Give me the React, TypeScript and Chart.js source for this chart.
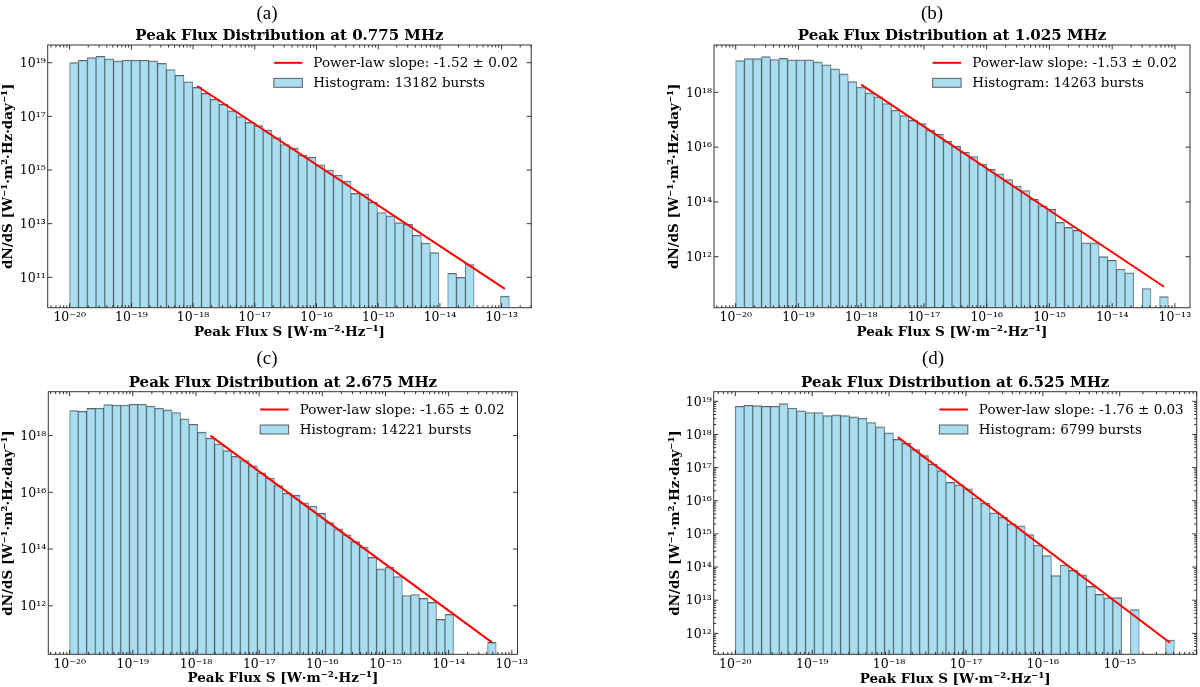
import React, { useEffect, useRef } from "react";
import { Chart, registerables } from "chart.js";

Chart.register(...registerables);

// ---------------- data ----------------
const panelLetters = ["(a)", "(b)", "(c)", "(d)"];
const frequencyLabels = ["0.775 MHz", "1.025 MHz", "2.675 MHz", "6.525 MHz"];
const burstCounts = [13182, 14263, 14221, 6799];
const slopeTexts = ["-1.52 ± 0.02", "-1.53 ± 0.02", "-1.65 ± 0.02", "-1.76 ± 0.03"];

// logarithmic histogram bins: 50 bins from the low edge to the high edge
const binLowEdges = [1e-20, 1e-20, 1e-20, 1e-20];
const binHighEdges = [1.33e-13, 7.85e-14, 5.65e-14, 5.13e-15];

// dN/dS per bin (null = empty bin)
const densityA = [
  1.0e19, 1.23e19, 1.55e19, 1.74e19, 1.38e19, 1.17e19, 1.26e19, 1.26e19, 1.23e19, 1.17e19,
  9.5e18, 5.6e18, 3.4e18, 1.95e18, 1.2e18, 7.2e17, 4.3e17, 2.8e17, 1.6e17, 9.8e16,
  6.0e16, 4.5e16, 3.1e16, 1.6e16, 8.9e15, 6.5e15, 3.6e15, 3.0e15, 1.55e15, 1.0e15,
  6.5e14, 3.9e14, 1.35e14, 1.3e14, 6.3e13, 2.6e13, 1.95e13, 1.1e13, 9.5e12, 3.7e12,
  1.9e12, 8.3e11, null, 1.4e11, 1.0e11, 3.0e11, null, null, null, 2.0e10,
];
const densityB = [
  1.43e19, 1.7e19, 1.7e19, 2.0e19, 1.58e19, 1.74e19, 1.55e19, 1.55e19, 1.55e19, 1.29e19,
  1.02e19, 7.2e18, 4.7e18, 2.45e18, 1.55e18, 9.5e17, 6.8e17, 3.9e17, 2.24e17, 1.41e17,
  9.5e16, 7.2e16, 4.2e16, 2.95e16, 1.62e16, 1.07e16, 6.5e15, 4.5e15, 2.4e15, 1.55e15,
  1.05e15, 6.6e14, 3.8e14, 2.6e14, 1.23e14, 7.2e13, 5.4e13, 1.8e13, 1.17e13, 9.1e12,
  3.2e12, 3.2e12, 1.0e12, 7.4e11, 3.5e11, 2.6e11, null, 6.9e10, null, 3.5e10,
];
const densityC = [
  7.6e18, 7.2e18, 9.1e18, 9.3e18, 1.23e19, 1.2e19, 1.2e19, 1.29e19, 1.29e19, 1.1e19,
  9.3e18, 8.1e18, 6.5e18, 3.9e18, 2.5e18, 1.32e18, 8.1e17, 5.1e17, 2.95e17, 1.86e17,
  1.32e17, 8.5e16, 4.9e16, 3.2e16, 1.74e16, 9.3e15, 7.9e15, 4.3e15, 3.3e15, 1.82e15,
  8.5e14, 5.2e14, 3.2e14, 1.82e14, 1.17e14, 5.1e13, 2.0e13, 2.3e13, 1.07e13, 2.3e12,
  2.5e12, 1.82e12, 1.32e12, 3.3e11, 5.0e11, null, null, null, null, 5.1e10,
];
const densityD = [
  7.1e18, 7.6e18, 7.4e18, 7.1e18, 7.1e18, 8.5e18, 6.3e18, 5.2e18, 4.6e18, 4.6e18,
  3.7e18, 3.9e18, 3.7e18, 3.4e18, 3.1e18, 2.3e18, 1.7e18, 1.12e18, 7.1e17, 5.4e17,
  3.5e17, 2.3e17, 1.26e17, 8.1e16, 3.6e16, 3.0e16, 2.3e16, 1.23e16, 8.5e15, 4.3e15,
  3.2e15, 2.0e15, 1.74e15, 9.5e14, 4.6e14, 2.2e14, 5.5e13, 1.15e14, 7.9e13, 5.8e13,
  2.6e13, 1.5e13, 1.17e13, 1.2e13, null, 5.2e12, null, null, null, 6.3e11,
];

// power-law fit lines (end points)
const fitFluxA = [1.16e-18, 1.13e-13];
const fitDensityA = [1.35e18, 3.7e10];
const fitFluxB = [1.0e-18, 6.7e-14];
const fitDensityB = [1.9e18, 8.0e10];
const fitFluxC = [1.69e-18, 4.84e-14];
const fitDensityC = [1.0e18, 5.1e10];
const fitFluxD = [1.3e-18, 4.5e-15];
const fitDensityD = [8.3e17, 5.2e11];

// axis ticks (powers of ten) and limits (log10)
const xTickExponents = [
  [-20, -19, -18, -17, -16, -15, -14, -13],
  [-20, -19, -18, -17, -16, -15, -14, -13],
  [-20, -19, -18, -17, -16, -15, -14, -13],
  [-20, -19, -18, -17, -16, -15],
];
const yTickExponents = [
  [11, 13, 15, 17, 19],
  [12, 14, 16, 18],
  [12, 14, 16, 18],
  [12, 13, 14, 15, 16, 17, 18, 19],
];
const yMinorFlags = [false, false, false, true];
const xLimitExponents = [
  [-20.356, -12.521],
  [-20.346, -12.759],
  [-20.338, -12.91],
  [-20.281, -13.999],
];
const yLimitExponents = [
  [9.867, 19.66],
  [10.138, 19.728],
  [10.289, 19.547],
  [11.368, 19.29],
];

const densities = [densityA, densityB, densityC, densityD];
const fitFluxes = [fitFluxA, fitFluxB, fitFluxC, fitFluxD];
const fitDensities = [fitDensityA, fitDensityB, fitDensityC, fitDensityD];

// ---------------- layout (page pixels) ----------------
const panelLayouts = [
  { L: 47.7, R: 531.2, T: 45, B: 307.7, canvasLeft: 0, yLabelX: 8.3, titleY: 35, xLabelY: 331.7, capX: 267, capY: 13.3 },
  { L: 714, R: 1190, T: 45, B: 307.7, canvasLeft: 655, yLabelX: 674, titleY: 35, xLabelY: 331.7, capX: 932, capY: 13.3 },
  { L: 48.3, R: 517.5, T: 391, B: 654.3, canvasLeft: 0, yLabelX: 7.8, titleY: 381.7, xLabelY: 677.7, capX: 267, capY: 358.3 },
  { L: 713.7, R: 1196.7, T: 391, B: 654.3, canvasLeft: 655, yLabelX: 675.5, titleY: 381.7, xLabelY: 678.3, capX: 933, capY: 358.3 },
];

const SERIF = "'DejaVu Serif'";
const TITLE_SIZE = 15;
const AXIS_TITLE_SIZE = 13.5;
const TICK_SIZE = 12.5;
const LEGEND_SIZE = 13.5;
const BAR_FILL = "rgba(135,206,235,0.7)";
const BAR_EDGE = "rgba(0,0,0,0.6)";
const FIT_COLOR = "#ff0000";
const FRAME_COLOR = "#333333";

const SUP: Record<string, string> = {
  "-": "⁻", "0": "⁰", "1": "¹", "2": "²", "3": "³", "4": "⁴",
  "5": "⁵", "6": "⁶", "7": "⁷", "8": "⁸", "9": "⁹",
};
const pow10Label = (e: number) =>
  "10" + String(e).split("").map((c) => SUP[c] ?? c).join("");

function logBinCenters(lo: number, hi: number, n: number): number[] {
  const a = Math.log10(lo);
  const b = Math.log10(hi);
  const w = (b - a) / n;
  const out: number[] = [];
  for (let i = 0; i < n; i++) out.push(Math.pow(10, a + (i + 0.5) * w));
  return out;
}

// ---------------- plugins ----------------
const frameTicksPlugin = {
  id: "frameTicks",
  afterDatasetsDraw(chart: any, _args: any, opts: any) {
    const { ctx, chartArea: a, scales } = chart;
    const xs = scales.x;
    const ys = scales.y;
    ctx.save();
    ctx.strokeStyle = FRAME_COLOR;
    ctx.lineWidth = 1;
    ctx.beginPath();
    const MAJ = 4.5;
    const MIN = 2.5;
    const xlo = Math.log10(xs.min);
    const xhi = Math.log10(xs.max);
    for (let e = Math.floor(xlo); e <= Math.ceil(xhi); e++) {
      for (let k = 1; k <= 9; k++) {
        const v = k * Math.pow(10, e);
        if (v < xs.min || v > xs.max) continue;
        const px = xs.getPixelForValue(v);
        const len = k === 1 ? MAJ : MIN;
        ctx.moveTo(px, a.bottom);
        ctx.lineTo(px, a.bottom - len);
        ctx.moveTo(px, a.top);
        ctx.lineTo(px, a.top + len);
      }
    }
    const ylo = Math.log10(ys.min);
    const yhi = Math.log10(ys.max);
    const majors: number[] = opts.yMajor || [];
    for (let e = Math.floor(ylo); e <= Math.ceil(yhi); e++) {
      for (let k = 1; k <= 9; k++) {
        const v = k * Math.pow(10, e);
        if (v < ys.min || v > ys.max) continue;
        let len = 0;
        if (k === 1 && majors.includes(e)) len = MAJ;
        else if (opts.yMinor) len = MIN;
        if (!len) continue;
        const py = ys.getPixelForValue(v);
        ctx.moveTo(a.left, py);
        ctx.lineTo(a.left + len, py);
        ctx.moveTo(a.right, py);
        ctx.lineTo(a.right - len, py);
      }
    }
    ctx.stroke();
    ctx.strokeRect(a.left, a.top, a.right - a.left, a.bottom - a.top);
    ctx.restore();
  },
};

const insetLegendPlugin = {
  id: "insetLegend",
  afterDraw(chart: any) {
    const { ctx, chartArea: a } = chart;
    const ds = chart.data.datasets;
    ctx.save();
    ctx.font = `${LEGEND_SIZE}px ${SERIF}`;
    const maxW = Math.max(...ds.map((d: any) => ctx.measureText(d.label).width));
    const tx = a.right - 13 - maxW;
    const rows = [a.top + 17.8, a.top + 37.8];
    ds.forEach((d: any, i: number) => {
      const yy = rows[i];
      if (d.type === "line") {
        ctx.strokeStyle = d.borderColor;
        ctx.lineWidth = 2;
        ctx.beginPath();
        ctx.moveTo(tx - 39.5, yy);
        ctx.lineTo(tx - 11, yy);
        ctx.stroke();
      } else {
        ctx.fillStyle = d.backgroundColor;
        ctx.fillRect(tx - 39.5, yy - 4.5, 28.5, 9);
        ctx.strokeStyle = d.borderColor;
        ctx.lineWidth = 1;
        ctx.strokeRect(tx - 39.5, yy - 4.5, 28.5, 9);
      }
      ctx.fillStyle = "#000";
      ctx.textAlign = "left";
      ctx.textBaseline = "middle";
      ctx.fillText(d.label, tx, yy + 0.5);
    });
    ctx.restore();
  },
};

// ---------------- panel ----------------
function Panel({ idx }: { idx: number }) {
  const ref = useRef<HTMLCanvasElement>(null);
  const g = panelLayouts[idx];
  const cl = g.canvasLeft;
  const yw = g.L - cl;
  const span = g.L + g.R - 2 * cl;
  const W = Math.ceil(span);
  const padR = W - span;
  const ct = Math.round(g.titleY - 30);
  const titleLH = TITLE_SIZE * 1.2;
  const titlePadTop = g.titleY + 1 - ct - titleLH / 2;
  const titlePadBottom = Math.max(0, g.T - g.titleY - 1 - titleLH / 2);
  const H = Math.ceil(g.xLabelY + 12 - ct);
  const canvasBottom = ct + H;
  const xh = canvasBottom - g.B;
  const axisLH = AXIS_TITLE_SIZE * 1.2;
  const xTitlePadBottom = Math.max(0, canvasBottom - g.xLabelY - 1 - axisLH / 2);
  const yTitlePadTop = Math.max(0, g.yLabelX - cl - axisLH / 2);

  useEffect(() => {
    const centers = logBinCenters(binLowEdges[idx], binHighEdges[idx], densities[idx].length);
    const histData = centers
      .map((x, i) => ({ x, y: densities[idx][i] }))
      .filter((p) => p.y !== null);
    const fitData = fitFluxes[idx].map((x, i) => ({ x, y: fitDensities[idx][i] }));
    const [xMinE, xMaxE] = xLimitExponents[idx];
    const [yMinE, yMaxE] = yLimitExponents[idx];
    const tickFont = { family: SERIF, size: TICK_SIZE };
    const axisTitleFont = { family: SERIF, size: AXIS_TITLE_SIZE, weight: "bold" as const };
    const noGrid = { display: false, drawTicks: false, tickLength: 0 };

    const chart = new Chart(ref.current as HTMLCanvasElement, {
      type: "bar",
      data: {
        datasets: [
          {
            type: "line",
            label: `Power-law slope: ${slopeTexts[idx]}`,
            data: fitData,
            borderColor: FIT_COLOR,
            backgroundColor: FIT_COLOR,
            borderWidth: 2,
            pointRadius: 0,
            fill: false,
            order: 0,
            xAxisID: "x",
            yAxisID: "y",
          } as any,
          {
            type: "bar",
            label: `Histogram: ${burstCounts[idx]} bursts`,
            data: histData as any,
            backgroundColor: BAR_FILL,
            borderColor: BAR_EDGE,
            borderWidth: { top: 1, left: 0.6, right: 0.6, bottom: 0 },
            borderSkipped: "start",
            barPercentage: 1,
            categoryPercentage: 1,
            order: 1,
            xAxisID: "x",
            yAxisID: "y",
          } as any,
        ],
      },
      options: {
        responsive: false,
        maintainAspectRatio: false,
        animation: false,
        events: [],
        layout: { padding: { left: 0, right: padR, top: 0, bottom: 0 }, autoPadding: false },
        plugins: {
          legend: { display: false },
          tooltip: { enabled: false },
          title: {
            display: true,
            text: `Peak Flux Distribution at ${frequencyLabels[idx]}`,
            color: "#000",
            font: { family: SERIF, size: TITLE_SIZE, weight: "bold", lineHeight: 1.2 },
            padding: { top: titlePadTop, bottom: titlePadBottom },
          },
          frameTicks: { yMajor: yTickExponents[idx], yMinor: yMinorFlags[idx] },
        } as any,
        scales: {
          x: {
            type: "logarithmic",
            position: "bottom",
            min: Math.pow(10, xMinE),
            max: Math.pow(10, xMaxE),
            offset: false,
            bounds: "data",
            grid: noGrid,
            border: { display: false },
            ticks: {
              autoSkip: false,
              maxRotation: 0,
              minRotation: 0,
              padding: 3,
              color: "#000",
              font: tickFont,
              callback: (v: any) => pow10Label(Math.round(Math.log10(Number(v)))),
            },
            afterBuildTicks: (s: any) => {
              s.ticks = xTickExponents[idx].map((e) => ({ value: Math.pow(10, e) }));
            },
            afterFit: (s: any) => {
              s.height = xh;
            },
            title: {
              display: true,
              text: "Peak Flux S [W·m⁻²·Hz⁻¹]",
              color: "#000",
              font: axisTitleFont,
              padding: { top: 0, bottom: xTitlePadBottom },
            },
          },
          y: {
            type: "logarithmic",
            position: "left",
            min: Math.pow(10, yMinE),
            max: Math.pow(10, yMaxE),
            beginAtZero: false,
            bounds: "data",
            grid: noGrid,
            border: { display: false },
            ticks: {
              autoSkip: false,
              padding: 2,
              labelOffset: 1,
              color: "#000",
              font: tickFont,
              callback: (v: any) => pow10Label(Math.round(Math.log10(Number(v)))),
            },
            afterBuildTicks: (s: any) => {
              s.ticks = yTickExponents[idx].map((e) => ({ value: Math.pow(10, e) }));
            },
            afterFit: (s: any) => {
              s.width = yw;
            },
            title: {
              display: true,
              text: "dN/dS [W⁻¹·m²·Hz·day⁻¹]",
              color: "#000",
              font: axisTitleFont,
              padding: { top: yTitlePadTop, bottom: 0 },
            },
          },
          yRight: {
            type: "linear",
            position: "right",
            display: true,
            grid: noGrid,
            border: { display: false },
            ticks: { display: false },
            afterFit: (s: any) => {
              s.width = yw;
            },
          },
        } as any,
      },
      plugins: [frameTicksPlugin, insetLegendPlugin],
    } as any);
    return () => chart.destroy();
  }, [idx]);

  return (
    <canvas
      ref={ref}
      width={W}
      height={H}
      style={{ position: "absolute", left: cl, top: ct, width: W, height: H }}
    />
  );
}

export default function App() {
  return (
    <div
      style={{
        position: "absolute",
        left: 0,
        top: 0,
        width: 1200,
        height: 687,
        overflow: "hidden",
        background: "#fff",
      }}
    >
      {[0, 1, 2, 3].map((i) => (
        <Panel key={i} idx={i} />
      ))}
      {panelLayouts.map((g, i) => (
        <div
          key={"cap" + i}
          style={{
            position: "absolute",
            left: g.capX - 30,
            top: g.capY - 11,
            width: 60,
            height: 22,
            lineHeight: "22px",
            textAlign: "center",
            fontFamily: "'Liberation Serif', serif",
            fontSize: 19,
            color: "#000",
          }}
        >
          {panelLetters[i]}
        </div>
      ))}
    </div>
  );
}
